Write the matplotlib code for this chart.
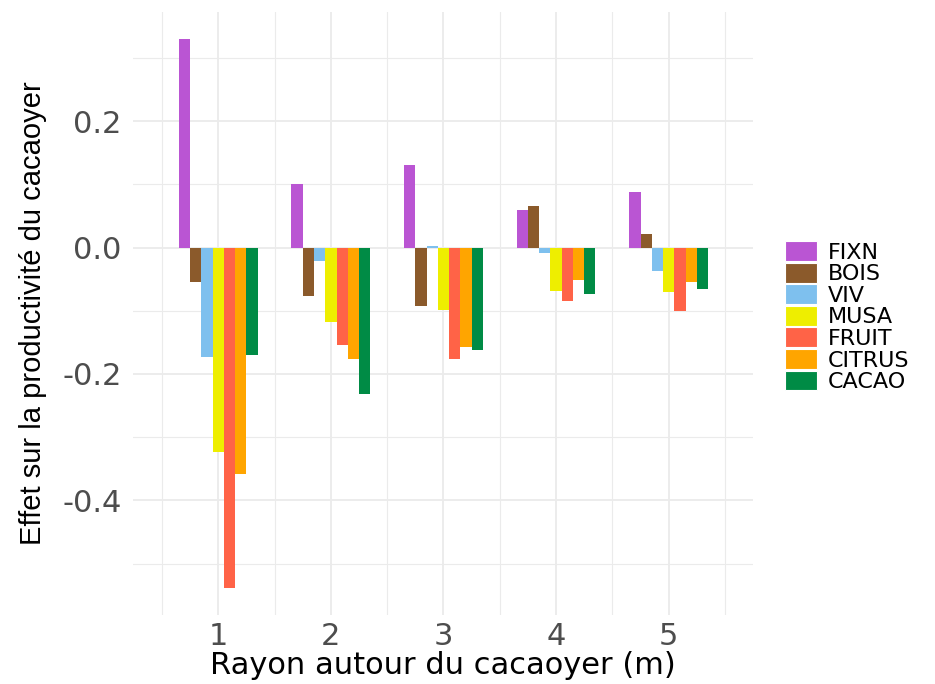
import numpy as np
import matplotlib
matplotlib.use("Agg")
import matplotlib.pyplot as plt
from matplotlib.patches import Patch

# Radius around the cocoa tree (m)
rayons = [1, 2, 3, 4, 5]

# Effect of each neighbour group on cocoa productivity, per radius
groupes = ["FIXN", "BOIS", "VIV", "MUSA", "FRUIT", "CITRUS", "CACAO"]
fixn = [0.330, 0.100, 0.130, 0.060, 0.088]
bois = [-0.054, -0.077, -0.092, 0.066, 0.022]
viv = [-0.173, -0.021, 0.002, -0.008, -0.037]
musa = [-0.323, -0.117, -0.099, -0.069, -0.071]
fruit = [-0.538, -0.154, -0.177, -0.084, -0.100]
citrus = [-0.358, -0.177, -0.157, -0.051, -0.054]
cacao = [-0.170, -0.231, -0.162, -0.074, -0.066]

couleurs = ["#BA55D3", "#8B5A2B", "#7EC0EE", "#EEEE00", "#FF6347", "#FFA500", "#008B45"]

series = [fixn, bois, viv, musa, fruit, citrus, cacao]

plt.rcParams["font.family"] = ["DejaVu Sans"]

fig = plt.figure(figsize=(9.35, 6.84), dpi=100)
ax = fig.add_axes([0.1422, 0.1009, 0.805 - 0.1422, 0.983 - 0.1009])

x = np.array(rayons, dtype=float)
largeur = 0.1
n = len(series)
for i, (vals, col) in enumerate(zip(series, couleurs)):
    ax.bar(x + (i - (n - 1) / 2) * largeur, vals, width=largeur,
           color=col, linewidth=0, zorder=3)

# Limits with ggplot-style 5% expansion
ymax = max(max(s) for s in series)
ymin = min(min(s) for s in series)
pad = 0.05 * (ymax - ymin)
ax.set_ylim(ymin - pad, ymax + pad)
ax.set_xlim(0.242, 5.746)

ax.set_yticks([-0.4, -0.2, 0.0, 0.2])
ax.set_yticklabels(["-0.4", "-0.2", "0.0", "0.2"])
ax.set_yticks([-0.5, -0.3, -0.1, 0.1, 0.3], minor=True)
ax.set_xticks(rayons)
ax.set_xticklabels([str(r) for r in rayons])
ax.set_xticks([0.5, 1.5, 2.5, 3.5, 4.5, 5.5], minor=True)

ax.grid(which="major", color="#EBEBEB", linewidth=1.3, zorder=0)
ax.grid(which="minor", color="#EBEBEB", linewidth=0.8, zorder=0)
for s in ax.spines.values():
    s.set_visible(False)
ax.tick_params(which="both", length=0)
ax.tick_params(axis="both", labelsize=22, labelcolor="#4D4D4D")
ax.tick_params(axis="y", pad=8)
ax.tick_params(axis="x", pad=5)

ax.set_xlabel("Rayon autour du cacaoyer (m)", fontsize=22, color="black", labelpad=0)
ax.set_ylabel("Effet sur la productivité du cacaoyer", fontsize=21, color="black",
              labelpad=11, family=["Liberation Sans", "DejaVu Sans"])

handles = [Patch(facecolor=c, edgecolor="white", linewidth=0.8) for c in couleurs]
leg = fig.legend(handles, groupes, loc="center left", bbox_to_anchor=(0.8396, 0.537),
                 frameon=False, fontsize=16, handlelength=1.44, handleheight=1.0,
                 handletextpad=0.5, labelspacing=0.0, borderaxespad=0,
                 borderpad=0)

fig.savefig("out.png", dpi=100, facecolor="white")
